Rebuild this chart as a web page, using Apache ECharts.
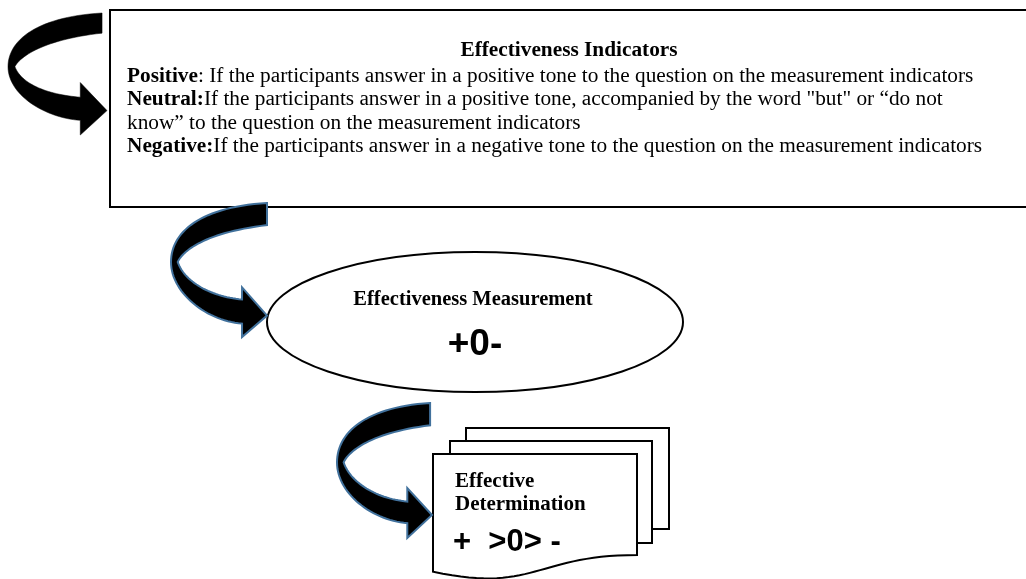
<!DOCTYPE html>
<html>
<head>
<meta charset="utf-8">
<script src="https://cdn.jsdelivr.net/npm/echarts@6.0.0/dist/echarts.min.js"></script>
<style>
html,body{margin:0;padding:0;background:#fff;}
#chart{width:1026px;height:579px;}
</style>
</head>
<body>
<div id="chart"></div>
<script>
// ---- content (text) ----
const boxTitle = 'Effectiveness Indicators';
const indicatorLabels = ['Positive', 'Neutral:', '', 'Negative:'];
const indicatorTexts = [
  ': If the participants answer in a positive tone to the question on the measurement indicators',
  'If the participants answer in a positive tone, accompanied by the word "but" or \u201cdo not',
  'know\u201d to the question on the measurement indicators',
  'If the participants answer in a negative tone to the question on the measurement indicators'
];
const measurementTitle = 'Effectiveness Measurement';
const measurementSymbols = '+0-';
const determinationTitle = ['Effective', 'Determination'];
const determinationSymbols = '+  >0> -';

// ---- layout (positions / sizes / styles) ----
const SERIF = '"Liberation Serif", "Times New Roman", serif';
const SANS = '"Liberation Sans", Arial, sans-serif';
const layout = {
  box: {x: 110, y: 10, w: 930, h: 197},
  titleX: 569, titleY: 50,
  textX: 127, lineY0: 76, lineGap: 23.5, fontSize: 21.3,
  ellipse: {cx: 475, cy: 322, rx: 208, ry: 70},
  arrows: [
    {x: 8, y: 13, w: 99, h: 122, end: .95, base: .73, ht: .57, tip: .80, bt: .69, bb: .88, outline: null},
    {x: 171, y: 203, w: 96, h: 134, end: 1.0, base: .74, ht: .63, tip: .84, bt: .72, bb: .90, outline: '#41719C'},
    {x: 337, y: 403, w: 95, h: 135, end: .98, base: .74, ht: .63, tip: .83, bt: .73, bb: .89, outline: '#41719C'}
  ],
  docs: {
    back: {x: 466, y: 428, w: 203, h: 101},
    mid: {x: 450, y: 441, w: 202, h: 102},
    front: {x: 433, y: 454, w: 204, h: 126}
  }
};

// sample a path made of L / C segments into polygon points
function samplePath(start, segs) {
  const pts = [start.slice()];
  let cur = start;
  segs.forEach(s => {
    if (s[0] === 'L') { pts.push(s[1].slice()); cur = s[1]; }
    else {
      const p0 = cur, p1 = s[1], p2 = s[2], p3 = s[3];
      for (let k = 1; k <= 30; k++) {
        const t = k / 30, u = 1 - t;
        pts.push([
          u*u*u*p0[0] + 3*u*u*t*p1[0] + 3*u*t*t*p2[0] + t*t*t*p3[0],
          u*u*u*p0[1] + 3*u*u*t*p1[1] + 3*u*t*t*p2[1] + t*t*t*p3[1]
        ]);
      }
      cur = p3;
    }
  });
  return pts;
}

function curvedArrow(a) {
  const P = (u, v) => [a.x + u * a.w, a.y + v * a.h];
  return samplePath(P(a.end, 0), [
    ['C', P(.30, .03), P(0, .22), P(0, .44)],
    ['C', P(0, .67), P(.37, a.bb - .02), P(a.base, a.bb)],
    ['L', P(a.base, 1)], ['L', P(1, a.tip)], ['L', P(a.base, a.ht)], ['L', P(a.base, a.bt)],
    ['C', P(.42, a.bt - .02), P(.14, .59), P(.07, .44)],
    ['C', P(.12, .36), P(.35, .22), P(a.end, .165)]
  ]);
}

function docShape(d) {
  const x0 = d.x, y0 = d.y, x1 = d.x + d.w, h = d.h;
  const yr = y0 + h * 17322 / 21600, yl = y0 + h * 20172 / 21600, yc = y0 + h * 23922 / 21600;
  const xm = x0 + d.w / 2;
  return samplePath([x0, y0], [['L', [x1, y0]], ['L', [x1, yr]], ['C', [xm, yr], [xm, yc], [x0, yl]]]);
}

const elements = [];
// big indicator box
elements.push({type: 'rect', shape: {x: layout.box.x, y: layout.box.y, width: layout.box.w, height: layout.box.h},
  style: {fill: '#fff', stroke: '#000', lineWidth: 2}});
elements.push({type: 'text', style: {text: boxTitle, x: layout.titleX, y: layout.titleY,
  fontFamily: SERIF, fontSize: layout.fontSize, fontWeight: 'bold', fill: '#000', align: 'center', verticalAlign: 'middle'}});
indicatorTexts.forEach((t, i) => {
  const label = indicatorLabels[i];
  const txt = (label ? '{b|' + label + '}' : '') + '{r|' + t + '}';
  elements.push({type: 'text', style: {text: txt, x: layout.textX, y: layout.lineY0 + i * layout.lineGap,
    fontFamily: SERIF, fontSize: layout.fontSize, fill: '#000', align: 'left', verticalAlign: 'middle',
    rich: {
      b: {fontFamily: SERIF, fontSize: layout.fontSize, fontWeight: 'bold', fill: '#000'},
      r: {fontFamily: SERIF, fontSize: layout.fontSize, fontWeight: 'normal', fill: '#000'}
    }}});
});

// ellipse
const E = layout.ellipse;
elements.push({type: 'ellipse', shape: {cx: E.cx, cy: E.cy, rx: E.rx, ry: E.ry},
  style: {fill: '#fff', stroke: '#000', lineWidth: 2}});
elements.push({type: 'text', style: {text: measurementTitle, x: E.cx - 2, y: 300,
  fontFamily: SERIF, fontSize: 20.5, fontWeight: 'bold', fill: '#000', align: 'center', verticalAlign: 'middle'}});
elements.push({type: 'text', style: {text: measurementSymbols, x: E.cx, y: 345,
  fontFamily: SANS, fontSize: 37, fontWeight: 'bold', fill: '#000', align: 'center', verticalAlign: 'middle'}});

// documents
const D = layout.docs;
[D.back, D.mid].forEach(d => elements.push({type: 'rect', shape: {x: d.x, y: d.y, width: d.w, height: d.h},
  style: {fill: '#fff', stroke: '#000', lineWidth: 2}}));
elements.push({type: 'polygon', shape: {points: docShape(D.front)}, style: {fill: '#fff', stroke: '#000', lineWidth: 2}});
determinationTitle.forEach((t, i) => elements.push({type: 'text', style: {text: t, x: 455, y: 482 + i * 23,
  fontFamily: SERIF, fontSize: 21, fontWeight: 'bold', fill: '#000', align: 'left', verticalAlign: 'middle'}}));
elements.push({type: 'text', style: {text: determinationSymbols, x: 453, y: 542,
  fontFamily: SANS, fontSize: 31, fontWeight: 'bold', fill: '#000', align: 'left', verticalAlign: 'middle'}});

// curved arrows
layout.arrows.forEach(a => elements.push({type: 'polygon', shape: {points: curvedArrow(a)},
  style: {fill: '#000', stroke: a.outline || '#000', lineWidth: a.outline ? 2 : 0.5, lineJoin: 'miter'}}));

const chart = echarts.init(document.getElementById('chart'), null, {renderer: 'canvas'});
chart.setOption({backgroundColor: '#fff', animation: false, graphic: {elements: elements}});
</script>
</body>
</html>
